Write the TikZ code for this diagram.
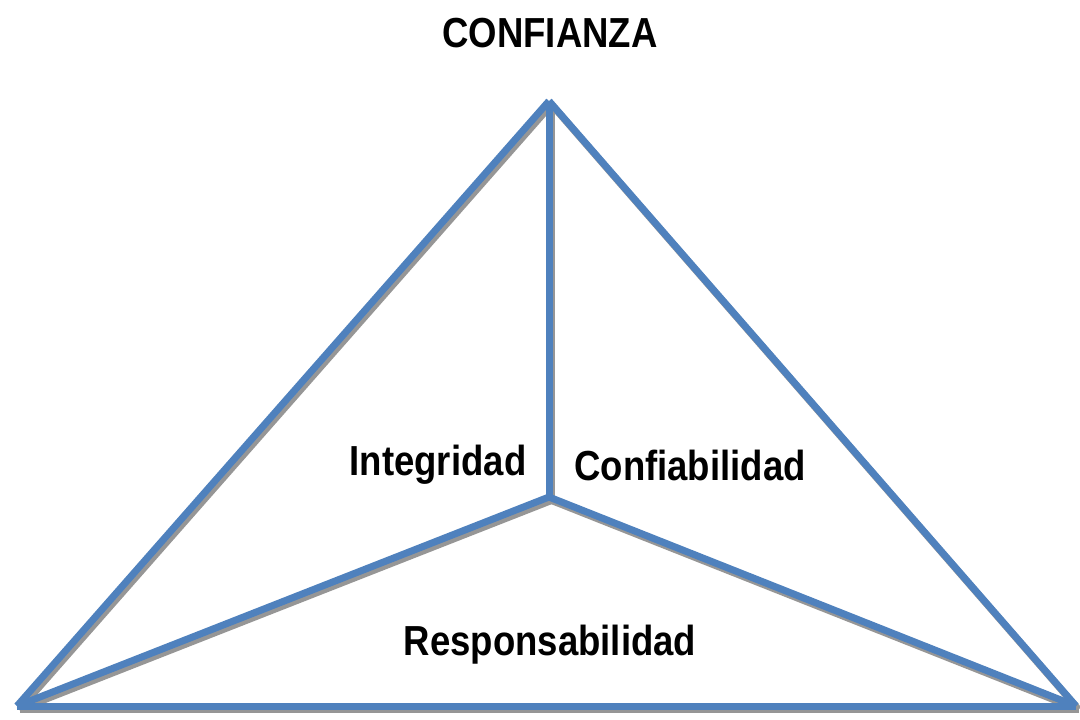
\documentclass[tikz,border=0pt]{standalone}
\usepackage{fontspec}
\setmainfont[FakeStretch=0.87]{Liberation Sans}
\usetikzlibrary{calc}
\begin{document}
\begin{tikzpicture}[x=1pt,y=-1pt,
  edge/.style={line width=7pt,color=edgeblue},
  shade/.style={line width=7pt,color=shadowgray},
  lbl/.style={font=\fontsize{42}{48}\selectfont\bfseries,inner sep=0pt}]
\definecolor{edgeblue}{RGB}{79,129,189}
\definecolor{shadowgray}{RGB}{150,150,150}
\useasboundingbox (0,0) rectangle (1080,720);
\coordinate (A) at (549,101);
\coordinate (L) at (17,706);
\coordinate (R) at (1076,706);
\coordinate (C) at (549,497);
\foreach \p/\q in {A/L,A/R,A/C,C/L,C/R,L/R}{
  \draw[shade] ($(\p)+(2.5,3.5)$) -- ($(\q)+(2.5,3.5)$);
}
\foreach \p/\q in {A/L,A/R,A/C,C/L,C/R,L/R}{
  \draw[edge] (\p) -- (\q);
}
\node[lbl] (title) at (550,33) {CONFIANZA};
\node[lbl] (integ) at (438,465) {Integridad};
\node[lbl] (conf) at (690,465) {Confiabilidad};
\node[lbl] (resp) at (550,645) {Responsabilidad};
\end{tikzpicture}
\end{document}
